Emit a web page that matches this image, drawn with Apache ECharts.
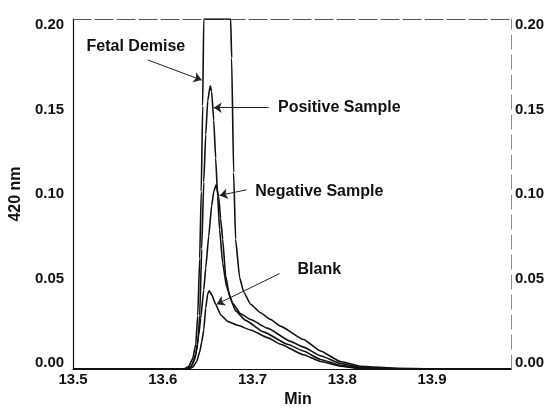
<!DOCTYPE html>
<html>
<head>
<meta charset="utf-8">
<script src="https://cdn.jsdelivr.net/npm/echarts@6/dist/echarts.min.js"></script>
<style>html,body{margin:0;padding:0;background:#fff}#c{width:551px;height:413px}</style>
</head>
<body>
<div id="c"></div>
<script>
// Retention time (min) vs absorbance at 420 nm
const xTicks = [13.5, 13.6, 13.7, 13.8, 13.9];
const yTicks = [0.00, 0.05, 0.10, 0.15, 0.20];

const fetalDemise = [
  [13.5,-0.0034],[13.6233,-0.0034],[13.6289,-0.0017],[13.6333,0.0028],[13.6367,0.0113],
  [13.6389,0.0282],[13.6411,0.0620],[13.6428,0.1014],[13.6444,0.1521],[13.6456,0.2034],
  [13.6756,0.2034],[13.6767,0.1803],[13.6789,0.1127],[13.6811,0.0732],[13.6856,0.0507],
  [13.6900,0.0423],[13.6978,0.0349],[13.7089,0.0299],[13.7200,0.0259],[13.7311,0.0220],
  [13.7567,0.0141],[13.7756,0.0073],[13.7978,0.0011],[13.8200,-0.0017],[13.8644,-0.0031],
  [13.9200,-0.0034],[13.9878,-0.0034]
];
const positiveSample = [
  [13.5,-0.0034],[13.6256,-0.0034],[13.6311,-0.0017],[13.6356,0.0023],[13.6389,0.0113],
  [13.6411,0.0282],[13.6433,0.0676],[13.6456,0.1070],[13.6478,0.1352],[13.6500,0.1549],
  [13.6528,0.1639],[13.6544,0.1606],[13.6567,0.1437],[13.6589,0.1211],[13.6611,0.0986],
  [13.6633,0.0789],[13.6667,0.0592],[13.6711,0.0451],[13.6778,0.0355],[13.6867,0.0293],
  [13.6978,0.0259],[13.7167,0.0208],[13.7422,0.0130],[13.7567,0.0096],[13.7756,0.0045],
  [13.7978,0.0000],[13.8200,-0.0023],[13.8644,-0.0031],[13.9200,-0.0034],[13.9878,-0.0034]
];
const negativeSample = [
  [13.5,-0.0034],[13.6267,-0.0034],[13.6322,-0.0017],[13.6367,0.0056],[13.6400,0.0169],
  [13.6422,0.0265],[13.6456,0.0434],[13.6478,0.0563],[13.6511,0.0749],[13.6544,0.0930],
  [13.6567,0.1014],[13.6594,0.1054],[13.6622,0.0986],[13.6644,0.0856],[13.6667,0.0732],
  [13.6700,0.0518],[13.6744,0.0394],[13.6811,0.0310],[13.6922,0.0254],[13.7122,0.0186],
  [13.7389,0.0113],[13.7567,0.0073],[13.7756,0.0023],[13.7978,-0.0011],[13.8200,-0.0028],
  [13.8644,-0.0034],[13.9878,-0.0034]
];
const blank = [
  [13.5,-0.0034],[13.6278,-0.0034],[13.6333,-0.0023],[13.6378,0.0011],[13.6411,0.0068],
  [13.6433,0.0124],[13.6456,0.0197],[13.6478,0.0327],[13.6500,0.0411],[13.6517,0.0428],
  [13.6544,0.0406],[13.6589,0.0349],[13.6644,0.0287],[13.6722,0.0248],[13.6833,0.0225],
  [13.6978,0.0197],[13.7167,0.0152],[13.7311,0.0113],[13.7567,0.0051],[13.7756,0.0011],
  [13.7978,-0.0017],[13.8200,-0.0031],[13.8644,-0.0034],[13.9878,-0.0034]
];

// annotation texts [x, y, text] and arrows [x1, y1, x2, y2]
const labelTexts = [
  [13.570, 0.1870, 'Fetal Demise'],
  [13.7967, 0.1510, 'Positive Sample'],
  [13.7744, 0.1014, 'Negative Sample'],
  [13.7744, 0.0552, 'Blank']
];
const arrows = [
  [13.5833, 0.1792, 13.6433, 0.1673],
  [13.7178, 0.1510, 13.6567, 0.1510],
  [13.6933, 0.1025, 13.6633, 0.0992],
  [13.7300, 0.0530, 13.6600, 0.0349]
];

const FONT = 'Liberation Sans';
const chart = echarts.init(document.getElementById('c'));
const lineStyle = { color: '#111', width: 1.6 };
function curve(name, data) {
  return { name, type: 'line', data, showSymbol: false, symbol: 'none',
    smooth: 0.15, smoothMonotone: 'x', lineStyle, silent: true, clip: true, z: 3 };
}
chart.setOption({
  animation: false,
  backgroundColor: '#fff',
  grid: { left: 72, right: 40, top: 19, bottom: 27 },
  xAxis: [{
    type: 'value', min: 13.5, max: 13.988, position: 'bottom',
    name: 'Min', nameLocation: 'middle', nameGap: 12,
    nameTextStyle: { fontFamily: FONT, fontSize: 16, fontWeight: 'bold', color: '#111', padding: [0, 0, 0, 12] },
    axisLine: { show: true, onZero: false, lineStyle: { color: '#111', width: 1.2 } },
    axisTick: { show: false }, splitLine: { show: false },
    axisLabel: { customValues: xTicks, margin: 3, fontFamily: FONT, fontSize: 15, fontWeight: 'bold', color: '#111',
      formatter: v => v.toFixed(1) }
  }, {
    type: 'value', min: 13.5, max: 13.988, position: 'top',
    axisLine: { show: true, onZero: false, lineStyle: { color: '#555', width: 1, type: [18, 4] } },
    axisTick: { show: false }, splitLine: { show: false }, axisLabel: { show: false }
  }],
  yAxis: [{
    type: 'value', min: -0.0034, max: 0.2034, position: 'left',
    name: '420 nm', nameLocation: 'middle', nameGap: 46,
    nameTextStyle: { fontFamily: FONT, fontSize: 16, fontWeight: 'bold', color: '#111' },
    axisLine: { show: true, onZero: false, lineStyle: { color: '#111', width: 1.2 } },
    axisTick: { show: false }, splitLine: { show: false },
    axisLabel: { customValues: yTicks, margin: 9, fontFamily: FONT, fontSize: 15, fontWeight: 'bold', color: '#111',
      formatter: v => v.toFixed(2) }
  }, {
    type: 'value', min: -0.0034, max: 0.2034, position: 'right',
    axisLine: { show: true, onZero: false, lineStyle: { color: '#888', width: 1, type: [14, 6] } },
    axisTick: { show: false }, splitLine: { show: false },
    axisLabel: { customValues: yTicks, margin: 4, fontFamily: FONT, fontSize: 15, fontWeight: 'bold', color: '#111',
      formatter: v => v.toFixed(2) }
  }],
  series: [
    curve('Fetal Demise', fetalDemise),
    curve('Positive Sample', positiveSample),
    curve('Negative Sample', negativeSample),
    curve('Blank', blank),
    {
      type: 'scatter', data: labelTexts, symbolSize: 0, silent: true, z: 5,
      itemStyle: { opacity: 1, color: '#111' },
      label: { show: true, position: 'inside', formatter: p => p.data[2],
        fontFamily: FONT, fontSize: 16, fontWeight: 'bold', color: '#111', opacity: 1 },
      markLine: {
        silent: true, symbol: ['none', 'arrow'], symbolSize: 8, precision: 6,
        label: { show: false }, emphasis: { disabled: true },
        itemStyle: { color: '#222', opacity: 1 },
        lineStyle: { color: '#222', width: 1, type: 'solid', opacity: 1 },
        data: arrows.map(a => [{ coord: [a[0], a[1]] }, { coord: [a[2], a[3]] }])
      }
    }
  ]
});
</script>
</body>
</html>
